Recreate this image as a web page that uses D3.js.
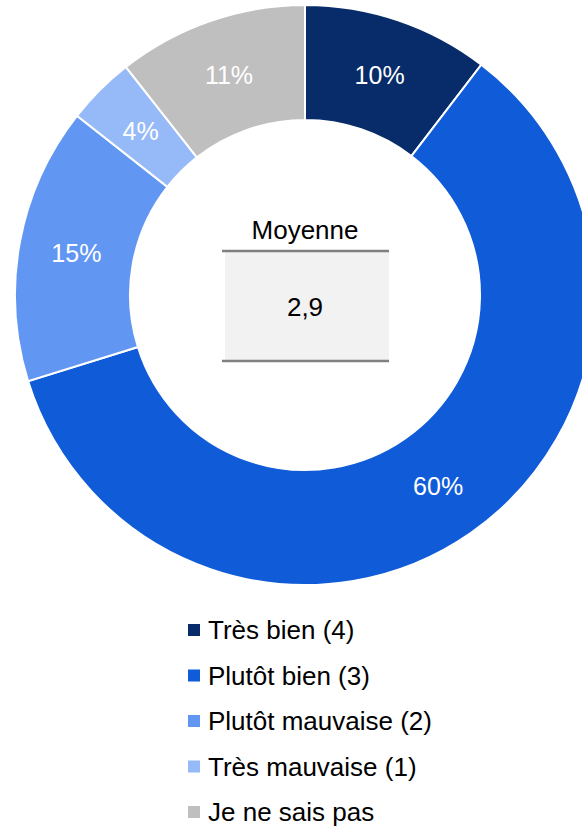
<!DOCTYPE html>
<meta charset="utf-8">
<style>
  body { margin: 0; background: #fff; }
  svg text { font-family: "Liberation Sans", Arial, sans-serif; }
</style>
<body>
<script src="https://cdn.jsdelivr.net/npm/d3@7"></script>
<script>

    var width = 582,
        height = 828;

    var categories = ["Très bien (4)", "Plutôt bien (3)", "Plutôt mauvaise (2)", "Très mauvaise (1)", "Je ne sais pas"];
    // shares; labels show them rounded
    var values = [10.4, 59.8, 15.4, 3.8, 10.6];
    var colors = ["#072C69", "#0F5BD8", "#6197F2", "#96BAF7", "#BFBFBF"];
    var meanLabel = "Moyenne";
    var meanValue = "2,9";

    var cx = 305, cy = 295,
        outerR = 290, innerR = 175;

    var svg = d3.select("body").append("svg")
            .attr("width", width)
            .attr("height", height);

    var pie = d3.pie().sort(null).value(function(d) { return d; });
    var arc = d3.arc().innerRadius(innerR).outerRadius(outerR);

    var g = svg.append("g").attr("transform", "translate(" + cx + "," + cy + ")");

    var slices = pie(values);

    g.selectAll("path.slice")
        .data(slices)
      .enter().append("path")
        .attr("class", "slice")
        .attr("d", arc)
        .attr("fill", function(d, i) { return colors[i]; })
        .attr("stroke", "#fff")
        .attr("stroke-width", 2);

    g.selectAll("text.pct")
        .data(slices)
      .enter().append("text")
        .attr("class", "pct")
        .attr("transform", function(d) { return "translate(" + arc.centroid(d) + ")"; })
        .attr("text-anchor", "middle")
        .attr("dy", "0.36em")
        .attr("fill", "#fff")
        .style("font-size", "25px")
        .text(function(d) { return Math.round(d.data) + "%"; });

    // average box in the hole
    var box = { x: -83, y: -44, w: 167, h: 110 };
    g.append("rect")
        .attr("x", box.x + 3).attr("y", box.y)
        .attr("width", box.w - 3).attr("height", box.h)
        .attr("fill", "#F2F2F2");
    g.append("line")
        .attr("x1", box.x).attr("x2", box.x + box.w)
        .attr("y1", box.y).attr("y2", box.y)
        .attr("stroke", "#808080").attr("stroke-width", 2.5);
    g.append("line")
        .attr("x1", box.x).attr("x2", box.x + box.w)
        .attr("y1", box.y + box.h).attr("y2", box.y + box.h)
        .attr("stroke", "#808080").attr("stroke-width", 2.5);
    g.append("text")
        .attr("x", 0).attr("y", -56)
        .attr("text-anchor", "middle")
        .attr("fill", "#000")
        .style("font-size", "26px")
        .text(meanLabel);
    g.append("text")
        .attr("x", 0).attr("y", 21)
        .attr("text-anchor", "middle")
        .attr("fill", "#000")
        .style("font-size", "26px")
        .text(meanValue);

    // legend
    var legendY = d3.scalePoint().domain(categories).range([630, 812]);

    var legend = svg.selectAll("g.legend")
        .data(categories)
      .enter().append("g")
        .attr("class", "legend")
        .attr("transform", function(d) { return "translate(188," + legendY(d) + ")"; });

    legend.append("rect")
        .attr("x", 0).attr("y", -6)
        .attr("width", 12).attr("height", 12)
        .attr("fill", function(d, i) { return colors[i]; });

    legend.append("text")
        .attr("x", 20)
        .attr("dy", "0.36em")
        .attr("fill", "#000")
        .style("font-size", "26px")
        .text(function(d) { return d; });

</script>
